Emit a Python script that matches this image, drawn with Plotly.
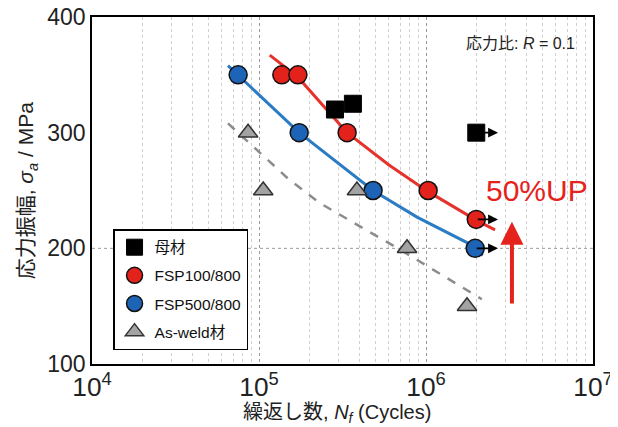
import numpy as np
import plotly.graph_objects as go

# ---- data ----
base_N = [2.85e5, 3.65e5, 2.0e6]
base_S = [320, 325, 300]
fsp100_N = [1.37e5, 1.71e5, 3.37e5, 1.03e6, 2.0e6]
fsp100_S = [350, 350, 300, 250, 225]
fsp500_N = [7.5e4, 1.74e5, 4.82e5, 1.97e6]
fsp500_S = [350, 300, 250, 200]
asweld_N = [8.6e4, 1.06e5, 3.86e5, 7.7e5, 1.76e6]
asweld_S = [300, 250, 250, 200, 150]

# fitted curves
fit100_N = [1.16e5, 1.71e5, 3.37e5, 6.0e5, 1.03e6, 2.02e6, 2.59e6]
fit100_S = [367, 348, 300, 272, 249, 224, 216]
fit500_N = [6.52e4, 7.48e4, 1.74e5, 4.82e5, 8.83e5, 1.76e6, 2.19e6]
fit500_S = [358, 350, 300, 250, 227, 205, 194]
fitas_N = [6.52e4, 9.2e4, 1.5e5, 2.32e5, 4.03e5, 6.98e5, 2.16e6]
fitas_S = [308, 288, 260, 239, 219, 199, 156]

# run-out points (N, S) and arrow target N
runout_N = [2.0e6, 2.0e6, 1.97e6]
runout_S = [300, 225, 200]
runout_end = 2.7e6

up_arrow_N = 3.27e6
up_arrow_S = [151, 223]

FONT = "Liberation Sans, Arial, Noto Sans CJK JP, sans-serif"
RED = "#e3221c"
BLUE = "#1d63b6"

fig = go.Figure()

fig.add_trace(go.Scatter(x=fitas_N, y=fitas_S, mode="lines", showlegend=False,
                         line=dict(color="#8c8c8c", width=2.5, dash="dash")))
fig.add_trace(go.Scatter(x=fit500_N, y=fit500_S, mode="lines", showlegend=False,
                         line=dict(color="#2b7cc4", width=3)))
fig.add_trace(go.Scatter(x=fit100_N, y=fit100_S, mode="lines", showlegend=False,
                         line=dict(color="#e5322b", width=3)))

mk_line = dict(color="#111111", width=1.5)
fig.add_trace(go.Scatter(x=base_N, y=base_S, mode="markers", name="母材", legendgroup="a",
                         marker=dict(symbol="square", size=17, color="black",
                                     line=dict(color="black", width=1))))
fig.add_trace(go.Scatter(x=fsp100_N, y=fsp100_S, mode="markers", name="FSP100/800", legendgroup="b",
                         marker=dict(symbol="circle", size=18, color=RED, line=mk_line)))
fig.add_trace(go.Scatter(x=fsp500_N, y=fsp500_S, mode="markers", name="FSP500/800", legendgroup="c",
                         marker=dict(symbol="circle", size=18, color=BLUE, line=mk_line)))
fig.add_trace(go.Scatter(x=asweld_N, y=asweld_S, mode="markers", name="As-weld材", legendgroup="d",
                         marker=dict(symbol="triangle-up", size=17, color="#a3a3a3",
                                     line=dict(color="#333333", width=1.5))))

annotations = []
for n, s in zip(runout_N, runout_S):
    annotations.append(dict(x=np.log10(runout_end), y=s, ax=np.log10(n), ay=s,
                            xref="x", yref="y", axref="x", ayref="y", text="",
                            showarrow=True, arrowhead=2, arrowsize=1.1, arrowwidth=1.8,
                            arrowcolor="black"))
annotations.append(dict(x=np.log10(up_arrow_N), y=up_arrow_S[1], ax=np.log10(up_arrow_N),
                        ay=up_arrow_S[0], xref="x", yref="y", axref="x", ayref="y", text="",
                        showarrow=True, arrowhead=2, arrowsize=1.15, arrowwidth=4,
                        arrowcolor="#e5221c"))
annotations.append(dict(x=6.665, y=250, xref="x", yref="y", text="50%UP", showarrow=False,
                        font=dict(family=FONT, size=30, color="#e5221c")))
annotations.append(dict(x=0.968, y=0.925, xref="paper", yref="paper", xanchor="right",
                        yanchor="middle", text="応力比: <i>R</i> = 0.1", showarrow=False,
                        font=dict(family=FONT, size=16, color="#222")))
# axis titles
annotations.append(dict(x=0.49, y=-0.1, xref="paper", yref="paper", xanchor="center",
                        yanchor="top", text="繰返し数, <i>N</i><sub><i>f</i></sub> (Cycles)",
                        showarrow=False, font=dict(family=FONT, size=20, color="#222")))
annotations.append(dict(x=-0.13, y=0.5, xref="paper", yref="paper", xanchor="center",
                        yanchor="middle", textangle=-90,
                        text="応力振幅, <i>σ</i><sub><i>a</i></sub> / MPa",
                        showarrow=False, font=dict(family=FONT, size=21, color="#222")))

# the page body adds an 8px offset; margins compensate so the plot box sits where the reference has it
fig.update_layout(
    width=618, height=427,
    margin=dict(l=84, r=33, t=9, b=71),
    plot_bgcolor="white", paper_bgcolor="white",
    font=dict(family=FONT, color="#222"),
    annotations=annotations,
    showlegend=True,
    legend=dict(x=0.042, y=0.04, xanchor="left", yanchor="bottom",
                bgcolor="white", bordercolor="black", borderwidth=1.5,
                font=dict(family=FONT, size=15.5, color="#111"),
                tracegroupgap=5, itemsizing="trace"),
    shapes=[dict(type="line", xref="paper", yref="y", x0=0, x1=1, y0=200, y1=200,
                 line=dict(color="#999999", width=1, dash="dot"), layer="below")],
)

fig.update_xaxes(
    type="log", range=[4, 7], dtick=1, exponentformat="power", showexponent="all",
    showline=True, linecolor="black", linewidth=1.5, mirror=True, automargin=False,
    ticks="", tickfont=dict(family=FONT, size=21, color="#222"), ticklabeloverflow="allow",
    showgrid=True, gridcolor="#999999", griddash="dot", gridwidth=1,
    minor=dict(showgrid=True, gridcolor="#cfcfcf", griddash="dot", gridwidth=1, ticks="", dtick="D1"),
    zeroline=False,
)
fig.update_yaxes(
    range=[100, 400], tickvals=[100, 200, 300, 400], automargin=False,
    showline=True, linecolor="black", linewidth=1.5, mirror=True,
    ticks="", tickfont=dict(family=FONT, size=23, color="#222"), ticklabeloverflow="allow",
    showgrid=False, zeroline=False,
)

fig.write_html("out.html")
